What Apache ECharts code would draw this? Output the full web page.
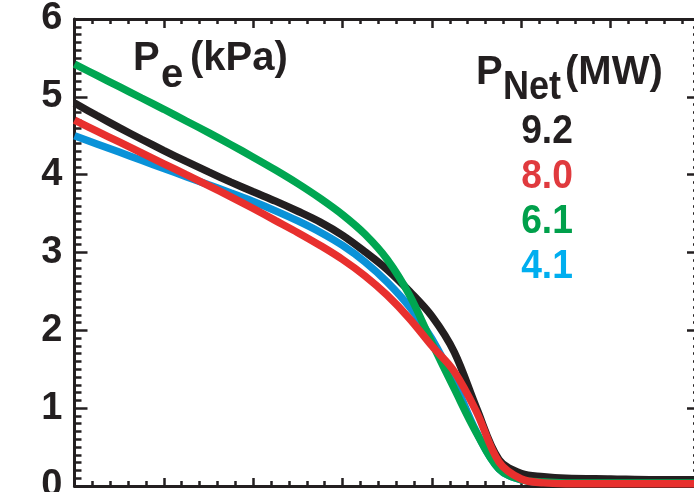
<!DOCTYPE html>
<html>
<head>
<meta charset="utf-8">
<script src="https://cdn.jsdelivr.net/npm/echarts@6/dist/echarts.min.js"></script>
<style>
html,body{margin:0;padding:0;background:#fff;}
#chart{width:694px;height:492px;}
</style>
</head>
<body>
<div id="chart"></div>
<script>
// x positions (normalized radius, unlabeled in the reference)
var xValues = [0, 0.05, 0.1, 0.15, 0.2, 0.25, 0.3, 0.35, 0.4, 0.45, 0.5, 0.55, 0.6, 0.65, 0.7, 0.75, 0.8, 0.85, 0.9, 0.95, 1.0, 1.05, 1.1, 1.2, 1.3, 1.4];
var seriesNames = ['9.2', '8.0', '6.1', '4.1'];
var pe92 = [4.92, 4.76, 4.605, 4.455, 4.31, 4.17, 4.035, 3.905, 3.78, 3.66, 3.53, 3.39, 3.22, 3.01, 2.78, 2.5, 2.18, 1.72, 1.0, 0.34, 0.16, 0.12, 0.1, 0.09, 0.08, 0.08];
var pe80 = [4.7, 4.56, 4.42, 4.28, 4.14, 4.0, 3.86, 3.715, 3.565, 3.41, 3.255, 3.09, 2.91, 2.7, 2.45, 2.15, 1.8, 1.47, 0.95, 0.31, 0.09, 0.04, 0.03, 0.03, 0.03, 0.03];
var pe61 = [5.42, 5.275, 5.13, 4.985, 4.84, 4.69, 4.54, 4.385, 4.225, 4.06, 3.885, 3.695, 3.485, 3.235, 2.91, 2.45, 1.84, 1.25, 0.68, 0.22, 0.08, 0.05, 0.04, 0.04, 0.04, 0.04];
var pe41 = [4.5, 4.395, 4.29, 4.185, 4.08, 3.975, 3.87, 3.765, 3.655, 3.535, 3.405, 3.26, 3.09, 2.88, 2.62, 2.3, 1.89, 1.34, 0.69, 0.22, 0.08, 0.05, 0.04, 0.04, 0.04, 0.04];
var yTickLabels = ['0', '1', '2', '3', '4', '5', '6'];

var lineColors = {'9.2': '#231f20', '8.0': '#e8302e', '6.1': '#00a651', '4.1': '#0a92d8'};
var textColors = {'9.2': '#231f20', '8.0': '#e03a3e', '6.1': '#00a04b', '4.1': '#00aeef'};

function pairs(ys) { return xValues.map(function (x, i) { return [x, ys[i]]; }); }
var dataByName = {'9.2': pe92, '8.0': pe80, '6.1': pe61, '4.1': pe41};
var drawOrder = ['4.1', '9.2', '6.1', '8.0'];

var axisColor = '#231f20';
var FONT = '"Liberation Sans", Arial, sans-serif';

function xAx(pos, tickLen, minorLen) {
  return {
    type: 'value', position: pos, min: 0, max: 1.4, interval: 0.2,
    axisLine: {show: true, onZero: false, lineStyle: {color: axisColor, width: 3}},
    axisTick: {show: true, inside: true, length: tickLen, lineStyle: {color: axisColor, width: 2.5}},
    minorTick: {show: true, splitNumber: 5, length: minorLen, lineStyle: {color: axisColor, width: 2.5}},
    axisLabel: {show: false},
    splitLine: {show: false}
  };
}
function yAx(pos, showLabel) {
  return {
    type: 'value', position: pos, min: 0, max: 6, interval: 1,
    axisLine: {show: true, onZero: false, lineStyle: {color: axisColor, width: 3}},
    axisTick: {show: true, inside: true, length: 13, lineStyle: {color: axisColor, width: 2.5}},
    minorTick: {show: true, splitNumber: 10, length: 7, lineStyle: {color: axisColor, width: 2.5}},
    axisLabel: {show: showLabel, margin: 12, color: axisColor, fontWeight: 'bold', fontSize: 38, fontFamily: FONT,
      formatter: function (v) { return yTickLabels[Math.round(v)]; }},
    splitLine: {show: false}
  };
}

var series = drawOrder.map(function (name) {
  return {
    name: name, type: 'line', xAxisIndex: 0, yAxisIndex: 0,
    data: pairs(dataByName[name]),
    showSymbol: false, symbol: 'none',
    smooth: 0.35,
    lineStyle: {color: lineColors[name], width: 7.5},
    z: 3
  };
});

function txt(x, y, s, color, align, sx) {
  return {type: 'text', x: x, y: y, scaleX: sx || 1, z: 10,
    style: {text: s, fill: color, font: 'bold 40px ' + FONT, align: align || 'left', verticalAlign: 'middle'}};
}
var graphics = [
  txt(133, 59, 'P', '#231f20'),
  txt(161, 76, 'e', '#231f20'),
  txt(190, 59, '(kPa)', '#231f20'),
  txt(476, 73, 'P', '#231f20'),
  txt(503, 88, 'Net', '#231f20', 'left', 0.9),
  txt(565, 73, '(MW)', '#231f20')
];
var legendY = [132, 177, 222, 267];
seriesNames.forEach(function (n, i) { graphics.push(txt(547, legendY[i], n, textColors[n], 'center', 0.93)); });

var chart = echarts.init(document.getElementById('chart'), null, {renderer: 'canvas'});
chart.setOption({
  animation: false,
  backgroundColor: '#ffffff',
  grid: {left: 74.5, top: 19, width: 625.5, height: 467, outerBoundsMode: 'none', containLabel: false},
  xAxis: [xAx('bottom', 8, 5), xAx('top', 9, 5)],
  yAxis: [yAx('left', true), yAx('right', false)],
  series: series,
  graphic: graphics
});
</script>
</body>
</html>
